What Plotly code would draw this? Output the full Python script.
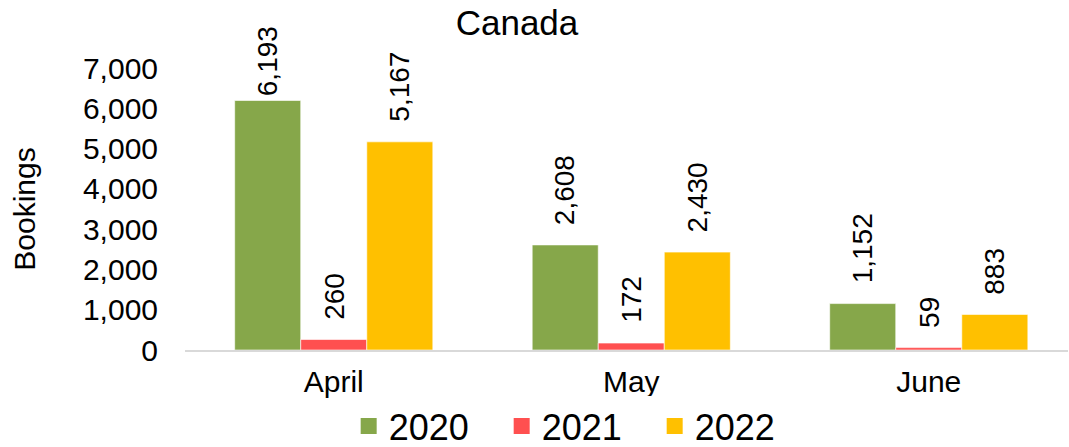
import plotly.graph_objects as go

# chart data
months = ["April", "May", "June"]
years = ["2020", "2021", "2022"]
bookings_2020 = [6193, 2608, 1152]
bookings_2021 = [260, 172, 59]
bookings_2022 = [5167, 2430, 883]

colors = {"2020": "#86A74A", "2021": "#FF5050", "2022": "#FFC000"}
FONT = "Arial, Liberation Sans, sans-serif"
BARGAP = 0.334

series = {"2020": bookings_2020, "2021": bookings_2021, "2022": bookings_2022}

fig = go.Figure()
for yr in years:
    fig.add_trace(go.Bar(
        x=months,
        y=series[yr],
        name=yr,
        marker=dict(color=colors[yr], line=dict(color="rgba(255,255,255,0.6)", width=1)),
        hoverinfo="x+y+name",
        showlegend=False,
    ))
    # legend-only swatch, bigger square than the default bar icon
    fig.add_trace(go.Scatter(
        x=[None], y=[None], mode="markers", name=yr,
        marker=dict(symbol="square", size=19, color=colors[yr]),
    ))

# rotated value labels above each bar
bar_w = (1 - BARGAP) / len(years)
annotations = []
for k, yr in enumerate(years):
    for i, v in enumerate(series[yr]):
        gap = 2 if v > 6000 else 18  # tallest label gets pushed down to stay in chart area
        annotations.append(dict(
            x=i + (k - 1) * bar_w, y=v, xref="x", yref="y",
            text=f"{v:,}", textangle=-90, showarrow=False,
            xanchor="center", yanchor="bottom", yshift=gap,
            font=dict(family=FONT, size=28, color="black"),
        ))

fig.update_layout(
    width=1069, height=447,
    margin=dict(l=185, r=1, t=68, b=97, autoexpand=False),
    barmode="group", bargap=BARGAP, bargroupgap=0,
    plot_bgcolor="white", paper_bgcolor="white",
    font=dict(family=FONT, color="black"),
    title=dict(text="Canada", x=517 / 1069, xanchor="center",
               y=1 - 23 / 447, yref="container", yanchor="middle",
               font=dict(family=FONT, size=35, color="black")),
    xaxis=dict(range=[-0.5, 2.468], showgrid=False, showline=True,
               linecolor="#D9D9D9", linewidth=2, ticks="", automargin=False,
               ticklabelstandoff=4,
               tickfont=dict(family=FONT, size=30, color="black")),
    yaxis=dict(range=[0, 7000], showgrid=False, zeroline=False, showline=False,
               dtick=1000, tickformat=",", ticks="", automargin=False,
               ticklabelstandoff=26,
               tickfont=dict(family=FONT, size=30, color="black"),
               title=dict(text="Bookings", standoff=38,
                          font=dict(family=FONT, size=30, color="black"))),
    legend=dict(orientation="h", x=476 / 1069, xanchor="center",
                y=-(426 - 350) / 282, yanchor="middle",
                font=dict(family=FONT, size=36, color="black"),
                itemwidth=30, entrywidth=108, entrywidthmode="pixels",
                tracegroupgap=0),
    annotations=annotations,
    showlegend=True,
)

fig.write_html("out.html", config={"displayModeBar": False},
               post_script="document.body.style.margin='0';")
